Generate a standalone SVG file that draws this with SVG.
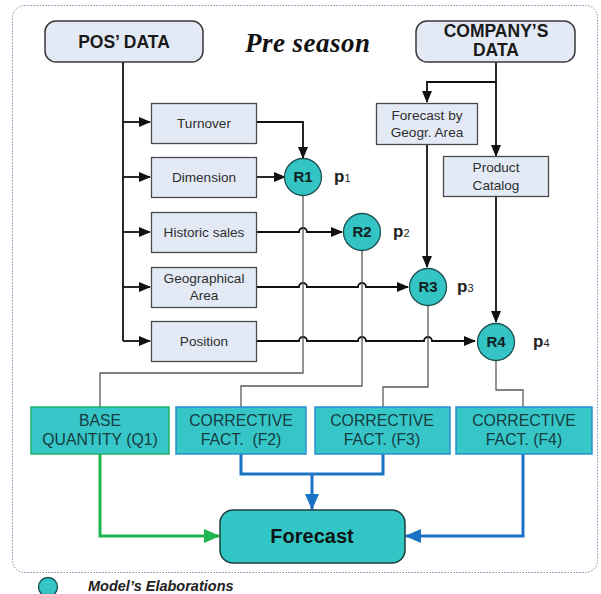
<svg xmlns="http://www.w3.org/2000/svg" width="601" height="594" viewBox="0 0 601 594">
  <style>
    .src { fill: #e3eaf6; stroke: #3a3a3a; stroke-width: 1.5; }
    .inp { fill: #e3eaf6; stroke: #4a4a4a; stroke-width: 1.3; }
    .rc { fill: #34c4c4; stroke: #1d4f4f; stroke-width: 1.3; }
    .out { fill: #36c6c8; stroke-width: 1.5; }
    .t { font-family: "Liberation Sans", Arial, sans-serif; text-anchor: middle; }
    .lbl { font-size: 13.6px; fill: #2e2e2e; }
    .hdr { font-size: 17.5px; font-weight: bold; fill: #1a1a1a; }
    .rl { font-size: 15px; font-weight: bold; fill: #122; }
    .ol { font-size: 15.8px; fill: #163c40; }
    .p { font-family: "Liberation Sans", Arial, sans-serif; font-size: 17px; font-weight: bold; fill: #222; }
    .p tspan { font-size: 11px; font-weight: normal; }
    .blk { fill: none; stroke: #111; stroke-width: 1.8; }
    .gry { fill: none; stroke: #5a5a5a; stroke-width: 1.3; }
    .grn { fill: none; stroke: #1cb54e; stroke-width: 3; }
    .blu { fill: none; stroke: #1a73c4; stroke-width: 3; }
  </style>
  <defs>
    <marker id="ah" markerUnits="userSpaceOnUse" markerWidth="12" markerHeight="10" refX="11" refY="5" orient="auto">
      <path d="M0,0 L12,5 L0,10 Z" fill="#111"/>
    </marker>
    <marker id="ahg" markerUnits="userSpaceOnUse" markerWidth="16" markerHeight="14" refX="15" refY="7" orient="auto">
      <path d="M0,0 L16,7 L0,14 Z" fill="#1cb54e"/>
    </marker>
    <marker id="ahb" markerUnits="userSpaceOnUse" markerWidth="16" markerHeight="14" refX="15" refY="7" orient="auto">
      <path d="M0,0 L16,7 L0,14 Z" fill="#1a73c4"/>
    </marker>
  </defs>

  <!-- frame -->
  <rect x="12.5" y="5.5" width="585" height="567" rx="12" fill="#fff" stroke="#7a8fb0" stroke-width="1" stroke-dasharray="1.5,1.5"/>

  <!-- title -->
  <text x="245" y="52" textLength="125" font-family="Liberation Serif, serif" font-size="27" font-weight="bold" font-style="italic" fill="#111">Pre season</text>

  <!-- connectors -->
  <g id="connectors">
    <!-- POS' DATA trunk and branches -->
    <path class="blk" d="M123,62 V341"/>
    <path class="blk" d="M123,122 H150" marker-end="url(#ah)"/>
    <path class="blk" d="M123,177 H150" marker-end="url(#ah)"/>
    <path class="blk" d="M123,232 H150" marker-end="url(#ah)"/>
    <path class="blk" d="M123,287 H150" marker-end="url(#ah)"/>
    <path class="blk" d="M123,341 H150" marker-end="url(#ah)"/>

    <!-- COMPANY'S DATA branches -->
    <path class="blk" d="M496,62 V82 H427 V102" marker-end="url(#ah)"/>
    <path class="blk" d="M496,82 V156" marker-end="url(#ah)"/>

    <!-- inputs into R nodes -->
    <path class="blk" d="M257,122 H303 V158" marker-end="url(#ah)"/>
    <path class="blk" d="M257,177 H285" marker-end="url(#ah)"/>
    <path class="blk" d="M257,232 H299 a4,4 0 0 1 8,0 H342" marker-end="url(#ah)"/>
    <path class="blk" d="M257,287 H299 a4,4 0 0 1 8,0 H358 a4,4 0 0 1 8,0 H408" marker-end="url(#ah)"/>
    <path class="blk" d="M257,341 H299 a4,4 0 0 1 8,0 H358 a4,4 0 0 1 8,0 H424 a4,4 0 0 1 8,0 H475" marker-end="url(#ah)"/>
    <path class="blk" d="M427,145 V267" marker-end="url(#ah)"/>
    <path class="blk" d="M496,196 V322" marker-end="url(#ah)"/>

    <!-- R node outputs -->
    <path class="gry" d="M303,196 V373 H100 V407"/>
    <path class="gry" d="M362,251 V386 H241 V407"/>
    <path class="gry" d="M428,306 V387 H383 V407"/>
    <path class="gry" d="M496,361 V390 H523 V407"/>

    <!-- into Forecast -->
    <path class="grn" d="M100,454 V536 H219" marker-end="url(#ahg)"/>
    <path class="blu" d="M241,454 V474 H383 V454"/>
    <path class="blu" d="M312,474 V509" marker-end="url(#ahb)"/>
    <path class="blu" d="M523,454 V536 H406" marker-end="url(#ahb)"/>
  </g>

  <!-- sources -->
  <g id="pos-data">
    <rect class="src" x="45" y="21" width="158" height="41" rx="11"/>
    <text class="t hdr" x="124" y="48">POS’ DATA</text>
  </g>
  <g id="company-data">
    <rect class="src" x="416" y="21" width="159" height="41" rx="11"/>
    <text class="t hdr" x="496" y="37">COMPANY’S</text>
    <text class="t hdr" x="496" y="56">DATA</text>
  </g>

  <!-- input boxes -->
  <g id="turnover">
    <rect class="inp" x="151.5" y="103.5" width="105" height="40"/>
    <text class="t lbl" x="204" y="128">Turnover</text>
  </g>
  <g id="dimension">
    <rect class="inp" x="151.5" y="157.5" width="105" height="40"/>
    <text class="t lbl" x="204" y="182">Dimension</text>
  </g>
  <g id="historic-sales">
    <rect class="inp" x="151.5" y="212.5" width="105" height="40"/>
    <text class="t lbl" x="204" y="237">Historic sales</text>
  </g>
  <g id="geographical-area">
    <rect class="inp" x="151.5" y="267.5" width="105" height="40"/>
    <text class="t lbl" x="204" y="283">Geographical</text>
    <text class="t lbl" x="204" y="300">Area</text>
  </g>
  <g id="position">
    <rect class="inp" x="151.5" y="321.5" width="105" height="40"/>
    <text class="t lbl" x="204" y="346">Position</text>
  </g>
  <g id="forecast-geo">
    <rect class="inp" x="376.5" y="103.5" width="101" height="41"/>
    <text class="t lbl" x="427" y="120">Forecast by</text>
    <text class="t lbl" x="427" y="137">Geogr. Area</text>
  </g>
  <g id="product-catalog">
    <rect class="inp" x="443.5" y="156.5" width="105" height="40"/>
    <text class="t lbl" x="496" y="172">Product</text>
    <text class="t lbl" x="496" y="190">Catalog</text>
  </g>

  <!-- model elaborations -->
  <g id="r1">
    <circle class="rc" cx="303" cy="177" r="18.5"/>
    <text class="t rl" x="303" y="182">R1</text>
    <text class="p" x="334" y="182">p<tspan>1</tspan></text>
  </g>
  <g id="r2">
    <circle class="rc" cx="362" cy="232" r="18.5"/>
    <text class="t rl" x="362" y="237">R2</text>
    <text class="p" x="393" y="237">p<tspan>2</tspan></text>
  </g>
  <g id="r3">
    <circle class="rc" cx="428" cy="287" r="18.5"/>
    <text class="t rl" x="428" y="292">R3</text>
    <text class="p" x="457" y="292">p<tspan>3</tspan></text>
  </g>
  <g id="r4">
    <circle class="rc" cx="496" cy="342" r="18.5"/>
    <text class="t rl" x="496" y="347">R4</text>
    <text class="p" x="533" y="347">p<tspan>4</tspan></text>
  </g>

  <!-- outputs -->
  <g id="base-quantity">
    <rect class="out" x="31" y="407" width="138" height="47" stroke="#22b06a"/>
    <text class="t ol" x="100" y="426">BASE</text>
    <text class="t ol" x="100" y="445">QUANTITY (Q1)</text>
  </g>
  <g id="fact-f2">
    <rect class="out" x="176" y="407" width="130" height="47" stroke="#2a8fd0"/>
    <text class="t ol" x="241" y="426">CORRECTIVE</text>
    <text class="t ol" x="241" y="445" xml:space="preserve">FACT.  (F2)</text>
  </g>
  <g id="fact-f3">
    <rect class="out" x="315" y="407" width="135" height="47" stroke="#2a8fd0"/>
    <text class="t ol" x="382" y="426">CORRECTIVE</text>
    <text class="t ol" x="382" y="445">FACT. (F3)</text>
  </g>
  <g id="fact-f4">
    <rect class="out" x="456" y="407" width="136" height="47" stroke="#2a8fd0"/>
    <text class="t ol" x="524" y="426">CORRECTIVE</text>
    <text class="t ol" x="524" y="445">FACT. (F4)</text>
  </g>
  <g id="forecast">
    <rect x="220" y="510" width="185" height="53" rx="13" fill="#33c6c6" stroke="#1d3c3c" stroke-width="1.5"/>
    <text class="t" x="312" y="543" font-size="20" font-weight="bold" fill="#0e1414">Forecast</text>
  </g>

  <!-- legend -->
  <g id="legend">
    <circle cx="48" cy="587" r="9.5" fill="#34c4c4" stroke="#1d4f4f" stroke-width="1.3"/>
    <text x="88" y="591" font-family="Liberation Sans, Arial, sans-serif" font-size="14.5" font-weight="bold" font-style="italic" fill="#222">Model’s Elaborations</text>
  </g>
</svg>
